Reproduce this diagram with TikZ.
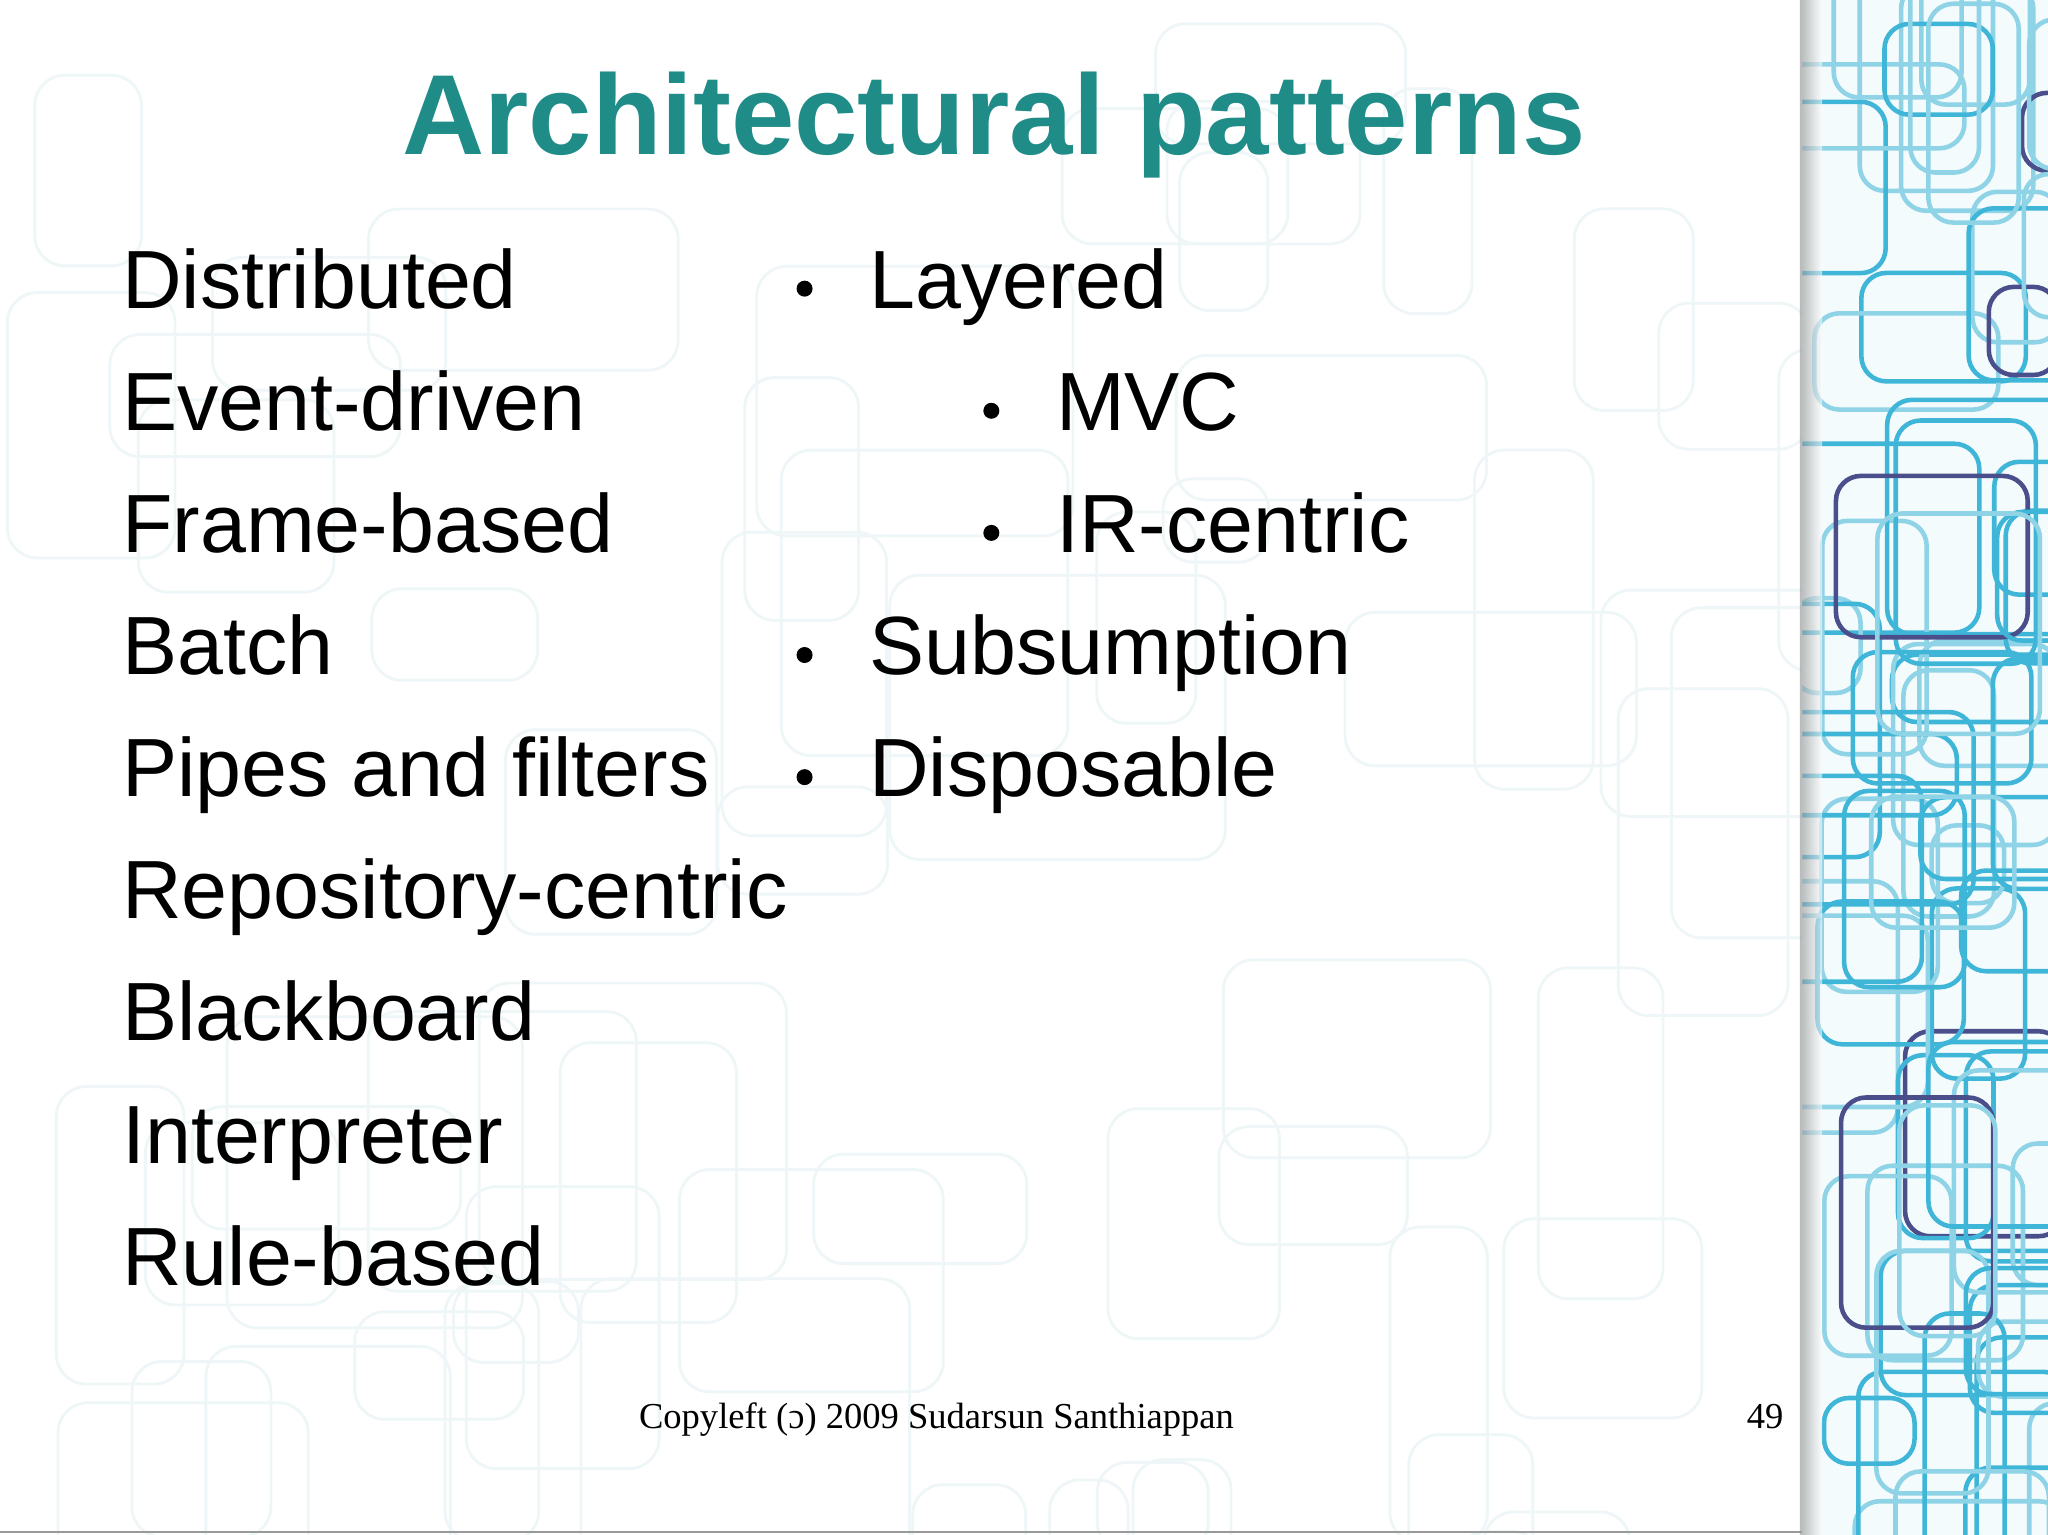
\documentclass[tikz,border=0pt]{standalone}
\usepackage{fontspec}
\setmainfont{Liberation Sans}
\newfontfamily\footfont{Liberation Serif}
\definecolor{teal1}{HTML}{1F8C88}
\definecolor{cyan1}{HTML}{3FB6D8}
\definecolor{cyan2}{HTML}{8FD3E6}
\definecolor{navy1}{HTML}{4A4F8C}
\definecolor{faint}{HTML}{EEF6F8}
\tikzset{
  item/.style={anchor=base west,inner sep=0pt,font=\fontsize{23.5}{28}\selectfont},
  bul/.style={circle,fill=black,inner sep=0pt,minimum size=0.16cm},
  deco/.style={rounded corners=0.25cm,line width=1.3pt},
}
\begin{document}
\begin{tikzpicture}[x=0.01306cm,y=-0.01306cm]
\useasboundingbox (0,0) rectangle (1568,1175);
\fill[white] (0,0) rectangle (1568,1175);
% faint background pattern
\pgfmathsetseed{7}
\foreach \i in {1,...,60}{
  \pgfmathsetmacro{\xa}{rnd*1380}\pgfmathsetmacro{\ya}{rnd*1175}
  \pgfmathsetmacro{\w}{60+rnd*200}\pgfmathsetmacro{\h}{60+rnd*200}
  \draw[faint,rounded corners=0.3cm,line width=0.8pt] (\xa,\ya) rectangle ++(\w,\h);
}
% right panel
\fill[white!94!cyan1] (1380,0) rectangle (1568,1175);
\begin{scope}
\clip (1380,0) rectangle (1568,1175);
\pgfmathsetseed{3}
\foreach \i in {1,...,70}{
  \pgfmathsetmacro{\xa}{1330+rnd*230}\pgfmathsetmacro{\ya}{-50+rnd*1200}
  \pgfmathsetmacro{\w}{50+rnd*120}\pgfmathsetmacro{\h}{50+rnd*150}
  \pgfmathsetmacro{\c}{rnd}
  \ifdim\c pt<0.6pt
    \draw[deco,cyan1] (\xa,\ya) rectangle ++(\w,\h);
  \else\ifdim\c pt<0.93pt
    \draw[deco,cyan2] (\xa,\ya) rectangle ++(\w,\h);
  \else
    \draw[deco,navy1] (\xa,\ya) rectangle ++(\w,\h);
  \fi\fi
}
\end{scope}
\shade[left color=black!45,right color=black!0,opacity=0.6] (1378,0) rectangle (1395,1175);
\draw[black!40,line width=0.8pt] (0,1173) -- (1380,1173);
% title
\node[anchor=base,font=\fontsize{32.4}{40}\selectfont\bfseries,text=teal1,inner sep=0pt] (title) at (761,118) {Architectural patterns};
% left column
\foreach \t [count=\k] in {Distributed,Event-driven,Frame-based,Batch,Pipes and filters,Repository-centric,Blackboard,Interpreter,Rule-based}{
  \node[item] (l\k) at (93,{236+93.5*(\k-1)}) {\t};
}
% right column
\node[item] (r1) at (665,236) {Layered};
\node[item] (r2) at (808,329.5) {MVC};
\node[item] (r3) at (808,423) {IR-centric};
\node[item] (r4) at (665,516.5) {Subsumption};
\node[item] (r5) at (665,610) {Disposable};
\node[bul] (b1) at (616,221) {};
\node[bul] (b2) at (759,314.5) {};
\node[bul] (b3) at (759,408) {};
\node[bul] (b4) at (616,501.5) {};
\node[bul] (b5) at (616,595) {};
% footer
\node[anchor=base,inner sep=0pt,font=\footfont\fontsize{10.4}{12}\selectfont] (foot) at (717,1094) {Copyleft (ɔ) 2009 Sudarsun Santhiappan};
\node[anchor=base east,inner sep=0pt,font=\footfont\fontsize{10.4}{12}\selectfont] (num) at (1366,1094) {49};
\end{tikzpicture}
\end{document}
